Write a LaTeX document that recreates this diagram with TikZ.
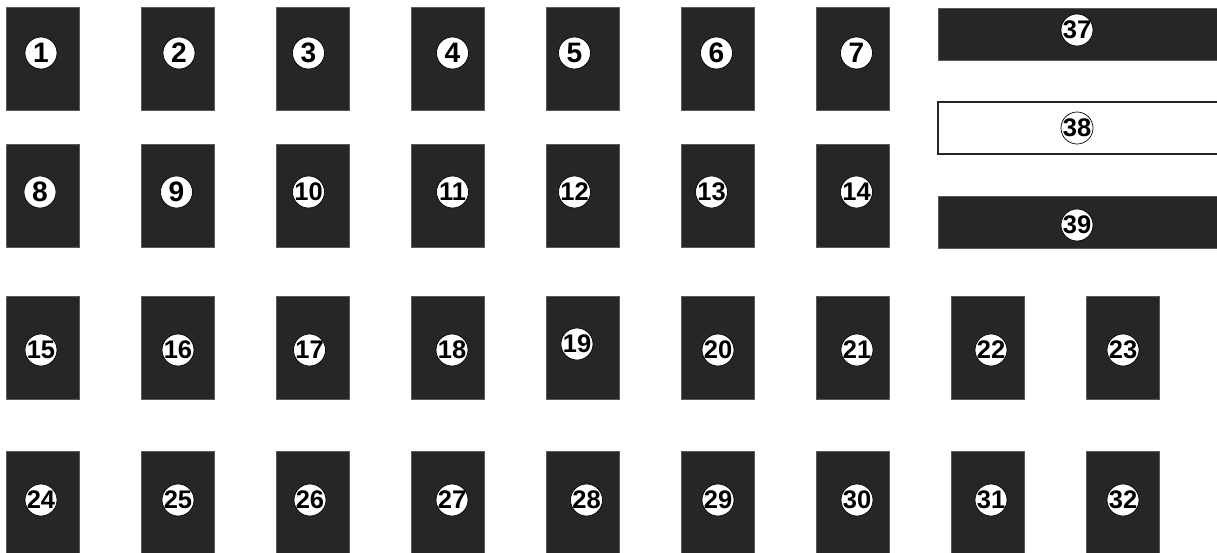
\documentclass[tikz,border=0pt]{standalone}
\usepackage{fontspec}
\setmainfont{Liberation Sans}
\usepackage{tikz}
\usetikzlibrary{calc}
\definecolor{darkseat}{RGB}{38,38,38}
\definecolor{seatedge}{RGB}{90,90,90}
\newcommand{\cnum}[1]{\makebox[0pt]{\raisebox{-.5\height}[0pt][0pt]{#1}}}

\begin{document}
\begin{tikzpicture}[x=0.02cm,y=-0.02cm,
  seat/.style={fill=darkseat,draw=seatedge,line width=0.4pt,inner sep=0pt,
               minimum width=1.46cm,minimum height=2.06cm},
  bar/.style={fill=darkseat,draw=seatedge,line width=0.4pt,inner sep=0pt,
              minimum width=5.8cm,minimum height=1.04cm},
  num/.style={circle,fill=white,draw=black,line width=0.4pt,inner sep=0pt,
              minimum size=0.64cm,font=\fontsize{16}{16}\selectfont\bfseries},
  numtwo/.style={num,font=\fontsize{14.5}{14.5}\selectfont\bfseries}]
 \useasboundingbox (0,0) rectangle (1217,552);
 \clip (0,0) rectangle (1217,552);

 \node[seat] (P1) at (42.5,58.5) {};
 \node[seat] (P2) at (177.5,58.5) {};
 \node[seat] (P3) at (312.5,58.5) {};
 \node[seat] (P4) at (447.5,58.5) {};
 \node[seat] (P5) at (582.5,58.5) {};
 \node[seat] (P6) at (717.5,58.5) {};
 \node[seat] (P7) at (852.5,58.5) {};

 \node[seat] (P8) at (42.5,195.5) {};
 \node[seat] (P9) at (177.5,195.5) {};
 \node[seat] (P10) at (312.5,195.5) {};
 \node[seat] (P11) at (447.5,195.5) {};
 \node[seat] (P12) at (582.5,195.5) {};
 \node[seat] (P13) at (717.5,195.5) {};
 \node[seat] (P14) at (852.5,195.5) {};

 \node[seat] (P15) at (42.5,347.5) {};
 \node[seat] (P16) at (177.5,347.5) {};
 \node[seat] (P17) at (312.5,347.5) {};
 \node[seat] (P18) at (447.5,347.5) {};
 \node[seat] (P19) at (582.5,347.5) {};
 \node[seat] (P20) at (717.5,347.5) {};
 \node[seat] (P21) at (852.5,347.5) {};
 \node[seat] (P22) at (987.5,347.5) {};
 \node[seat] (P23) at (1122.5,347.5) {};

 \node[seat] (P24) at (42.5,502.5) {};
 \node[seat] (P25) at (177.5,502.5) {};
 \node[seat] (P26) at (312.5,502.5) {};
 \node[seat] (P27) at (447.5,502.5) {};
 \node[seat] (P28) at (582.5,502.5) {};
 \node[seat] (P29) at (717.5,502.5) {};
 \node[seat] (P30) at (852.5,502.5) {};
 \node[seat] (P31) at (987.5,502.5) {};
 \node[seat] (P32) at (1122.5,502.5) {};

 \node[bar] (P37) at (1083,34) {};
 \node[bar,fill=white,draw=darkseat,line width=1.3pt] (P38) at (1083,128) {};
 \node[bar] (P39) at (1083,222.5) {};

 \node[num] (L1) at ($(P1)+(-1.5,-5.5)$) {\cnum{1}};
 \node[num] (L2) at ($(P2)+(1.5,-5.5)$) {\cnum{2}};
 \node[num] (L3) at ($(P3)+(-4,-5.5)$) {\cnum{3}};
 \node[num] (L4) at ($(P4)+(5,-5.5)$) {\cnum{4}};
 \node[num] (L5) at ($(P5)+(-8,-5.5)$) {\cnum{5}};
 \node[num] (L6) at ($(P6)+(-1,-5.5)$) {\cnum{6}};
 \node[num] (L7) at ($(P7)+(4,-5.5)$) {\cnum{7}};

 \node[num] (L8) at ($(P8)+(-2.5,-3.5)$) {\cnum{8}};
 \node[num] (L9) at ($(P9)+(-1,-3.5)$) {\cnum{9}};
 \node[numtwo] (L10) at ($(P10)+(-4,-3.5)$) {\cnum{10}};
 \node[numtwo] (L11) at ($(P11)+(5,-3.5)$) {\cnum{11}};
 \node[numtwo] (L12) at ($(P12)+(-8,-3.5)$) {\cnum{12}};
 \node[numtwo] (L13) at ($(P13)+(-6,-3.5)$) {\cnum{13}};
 \node[numtwo] (L14) at ($(P14)+(4,-3.5)$) {\cnum{14}};

 \node[numtwo] (L15) at ($(P15)+(-1.5,2.5)$) {\cnum{15}};
 \node[numtwo] (L16) at ($(P16)+(0.5,2.5)$) {\cnum{16}};
 \node[numtwo] (L17) at ($(P17)+(-3,2.5)$) {\cnum{17}};
 \node[numtwo] (L18) at ($(P18)+(4.5,2.5)$) {\cnum{18}};
 \node[numtwo] (L19) at ($(P19)+(-5.5,-3.5)$) {\cnum{19}};
 \node[numtwo] (L20) at ($(P20)+(0.5,2.5)$) {\cnum{20}};
 \node[numtwo] (L21) at ($(P21)+(4.5,2.5)$) {\cnum{21}};
 \node[numtwo] (L22) at ($(P22)+(3.5,2.5)$) {\cnum{22}};
 \node[numtwo] (L23) at ($(P23)+(0.5,2.5)$) {\cnum{23}};

 \node[numtwo] (L24) at ($(P24)+(-1.5,-2.5)$) {\cnum{24}};
 \node[numtwo] (L25) at ($(P25)+(0.5,-2.5)$) {\cnum{25}};
 \node[numtwo] (L26) at ($(P26)+(-2.5,-2.5)$) {\cnum{26}};
 \node[numtwo] (L27) at ($(P27)+(4.5,-2.5)$) {\cnum{27}};
 \node[numtwo] (L28) at ($(P28)+(4,-2.5)$) {\cnum{28}};
 \node[numtwo] (L29) at ($(P29)+(0.5,-2.5)$) {\cnum{29}};
 \node[numtwo] (L30) at ($(P30)+(4.5,-2.5)$) {\cnum{30}};
 \node[numtwo] (L31) at ($(P31)+(3.5,-2.5)$) {\cnum{31}};
 \node[numtwo] (L32) at ($(P32)+(0.5,-2.5)$) {\cnum{32}};

 \node[numtwo] (L37) at ($(P37)+(-6,-4)$) {\cnum{37}};
 \node[numtwo] (L38) at ($(P38)+(-6,0)$) {\cnum{38}};
 \node[numtwo] (L39) at ($(P39)+(-6,2.5)$) {\cnum{39}};
\end{tikzpicture}
\end{document}
